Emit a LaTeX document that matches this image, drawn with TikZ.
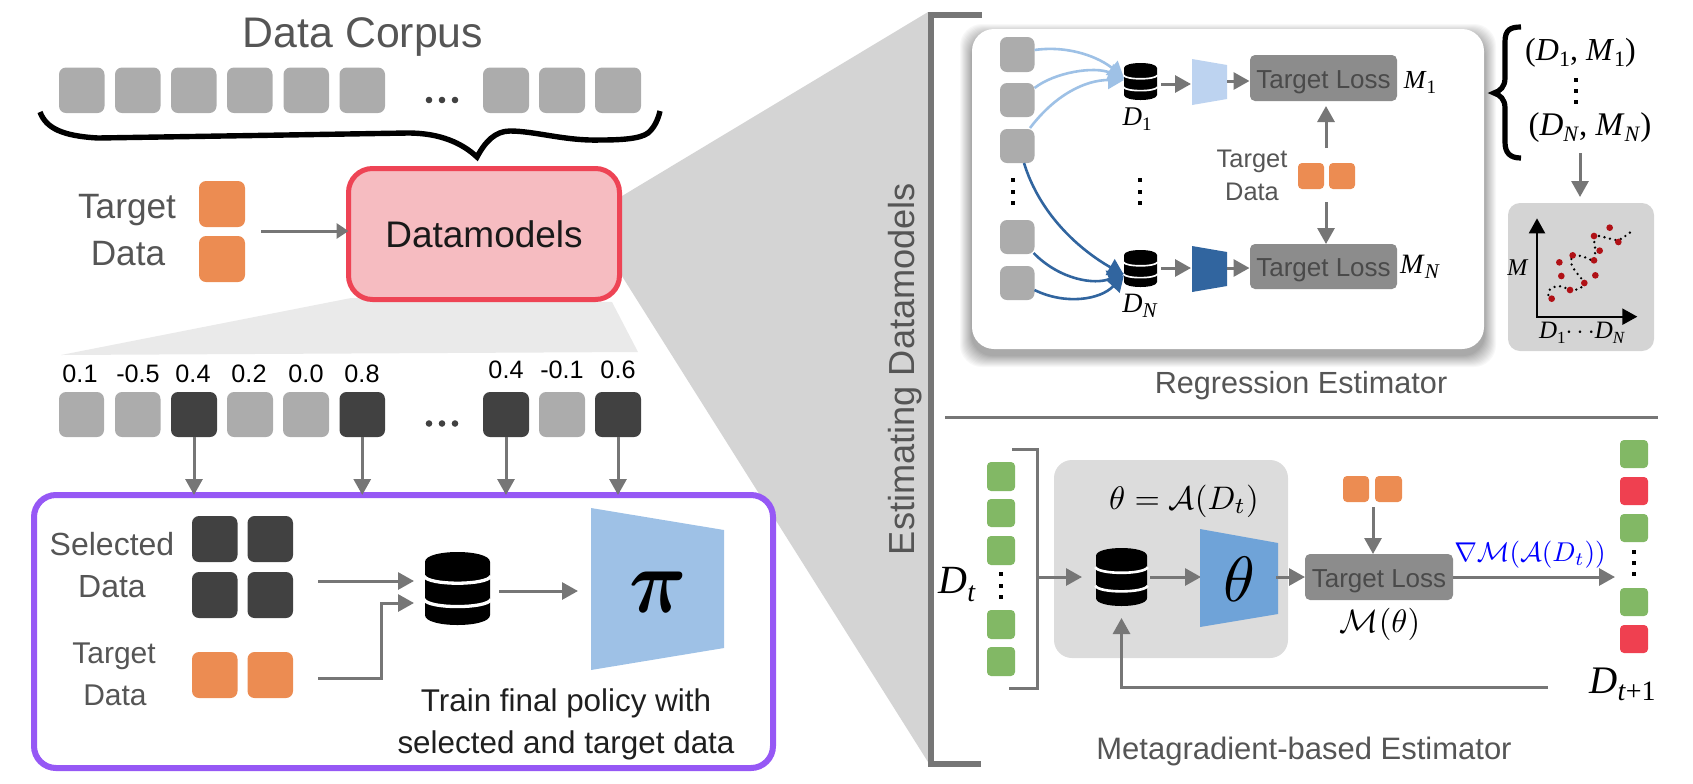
\documentclass[tikz,border=0pt]{standalone}
\usepackage{fix-cm}
\usepackage[no-math]{fontspec}
\setmainfont{Liberation Sans}
\newfontfamily\timesf{Liberation Serif}
\usetikzlibrary{arrows.meta,calc}
\definecolor{cgrey}{HTML}{ACACAC}
\definecolor{cdark}{HTML}{414141}
\definecolor{corange}{HTML}{EC8C52}
\definecolor{cgreen}{HTML}{82B865}
\definecolor{cred}{HTML}{EF4050}
\definecolor{carrow}{HTML}{767676}
\definecolor{cpurple}{HTML}{9658F5}
\definecolor{cdmfill}{HTML}{F6BCC1}
\definecolor{cdmline}{HTML}{EE4455}
\definecolor{cfan}{HTML}{D4D4D4}
\definecolor{cfanl}{HTML}{EAEAEA}
\definecolor{cpiblue}{HTML}{9EC1E6}
\definecolor{clite}{HTML}{BDD3F0}
\definecolor{cdeep}{HTML}{31659F}
\definecolor{ctheta}{HTML}{6FA3D8}
\definecolor{closs}{HTML}{8C8C8C}
\definecolor{closst}{HTML}{4A4A4A}
\definecolor{cgbox}{HTML}{DCDCDC}
\definecolor{ctext}{HTML}{555555}
\definecolor{cdots}{HTML}{B01116}
\font\pibfont=cmmib10 at 38pt
\tikzset{
 bxs/.style={rectangle,inner sep=0pt,outer sep=0pt,align=center},
 big/.style={bxs,rounded corners=3.5pt},
 small/.style={bxs,rounded corners=2pt},
 txs/.style={inner sep=0pt,outer sep=0pt,anchor=base,align=center},
 arr/.style={draw=carrow,line width=1.5pt,-{Triangle[length=8pt,width=8.5pt]}},
 loss/.style={bxs,rounded corners=2.5pt,fill=closs,text=closst,text height=10pt,text depth=0pt,font=\fontsize{13}{13}\selectfont},
 lblue/.style={draw=cpiblue,line width=1.3pt,-{Triangle[length=8pt,width=9pt]}},
 dblue/.style={draw=cdeep,line width=1.3pt,-{Triangle[length=8pt,width=9pt]}},
}
\newcommand\bx[7][]{\node[bxs,#1,minimum width={(#5-#3)*0.5pt},minimum height={(#6-#4)*0.5pt}] (#2) at ({(#3+#5)/2},{(#4+#6)/2}) {#7};}
\newcommand\tx[6][]{\node[txs,#1,font=\fontsize{#5}{#5}\selectfont] (#2) at (#3,#4) {#6};}
\newcommand\mth[6][]{\node[txs,#1] (#2) at (#3,#4) {\scalebox{#5}{$#6$}};}
\newcommand\dsub[4]{{\fontsize{#3}{#3}\selectfont\timesf\textit{#1}\raisebox{-.2em}{\fontsize{#4}{#4}\selectfont#2}}}
\newcommand\dbicon[5]{%
 \node[bxs,minimum width={#4*0.5pt},minimum height={#5*0.5pt}] (#1) at (#2,#3) {};
 \begin{scope}[shift={(#2,#3)},x={#4*0.25pt},y={-#5*0.25pt}]
 \fill[black] (-1,-.73) .. controls (-1,-1.09) and (1,-1.09) .. (1,-.73) -- (1,.73) .. controls (1,1.09) and (-1,1.09) .. (-1,.73) -- cycle;
 \draw[white,line width={#5*0.0225pt}] (-1.03,-.34) .. controls (-.9,-.08) and (.9,-.08) .. (1.03,-.34);
 \draw[white,line width={#5*0.0225pt}] (-1.03,.30) .. controls (-.9,.56) and (.9,.56) .. (1.03,.30);
 \end{scope}}
\newcommand\vd[4]{\foreach \yy in {#2,#3,#4} {\fill[black] ({#1-2},{\yy-2}) rectangle ({#1+2},{\yy+2});}}
\begin{document}
\begin{tikzpicture}[x=0.5pt,y=-0.5pt]
\useasboundingbox (0,0) rectangle (1693,783);
% fans
\fill[cfanl] (351,298) -- (61,355) -- (638,352) -- (612,302) -- cycle;
\fill[cfan] (622,196) -- (928,12) -- (928,762) -- (620,273) -- cycle;
\draw[carrow,line width=3pt] (982,14.5) -- (931,14.5) -- (931,764) -- (981,764);
\tx[rotate=90,text=ctext]{estd}{914}{369}{18.1}{Estimating Datamodels}
% Data corpus
\tx[text=ctext]{corpus}{363}{47}{21.4}{Data Corpus}
\bx[big,fill=cgrey]{a1}{59}{67.5}{104.5}{113}{}
\bx[big,fill=cgrey]{a2}{115}{67.5}{160.5}{113}{}
\bx[big,fill=cgrey]{a3}{171}{67.5}{216.5}{113}{}
\bx[big,fill=cgrey]{a4}{227}{67.5}{272.5}{113}{}
\bx[big,fill=cgrey]{a5}{283.5}{67.5}{329}{113}{}
\bx[big,fill=cgrey]{a6}{339.5}{67.5}{385}{113}{}
\bx[big,fill=cgrey]{a7}{483}{67.5}{529}{113}{}
\bx[big,fill=cgrey]{a8}{539}{67.5}{585}{113}{}
\bx[big,fill=cgrey]{a9}{595}{67.5}{641}{113}{}
\foreach \xx in {429,442,455} {\fill[cdark] (\xx,100) circle[radius=3.3];}
\draw[black,line width=2.7pt,line join=miter,miter limit=10] (40,112) .. controls (46,128) and (62,136) .. (98,138) -- (286,135) -- (408,133) .. controls (440,133) and (462,143) .. (477,157) .. controls (485,142) and (495,131) .. (510,131) .. controls (535,131) and (565,141) .. (600,140) .. controls (620,140) and (640,139) .. (648,133) .. controls (654,128) and (658,120) .. (660,111);
% Target + datamodels
\tx[text=ctext]{tt1}{127}{218}{17.6}{Target}
\tx[text=ctext]{tt2}{128}{265}{17.6}{Data}
\bx[big,fill=corange]{o1}{199}{181}{245}{227}{}
\bx[big,fill=corange]{o2}{199}{236}{245}{282}{}
\bx[fill=cdmfill,draw=cdmline,line width=2.5pt,rounded corners=12pt,font=\fontsize{18.5}{18.5}\selectfont,text=black!90]{dm}{348.5}{168.5}{619.5}{299.5}{Datamodels}
\coordinate (oarr) at (261,231);
\draw[draw=carrow,line width=1.5pt,-{Triangle[length=6pt,width=7.5pt]}] (oarr) -- (oarr -| dm.west);
% Row with scores
\tx{n1}{80}{382}{12.6}{0.1}
\tx{n2}{138}{382}{12.6}{-0.5}
\tx{n3}{193}{382}{12.6}{0.4}
\tx{n4}{249}{382}{12.6}{0.2}
\tx{n5}{306}{382}{12.6}{0.0}
\tx{n6}{362}{382}{12.6}{0.8}
\tx{n7}{506}{378}{12.6}{0.4}
\tx{n8}{562}{378}{12.6}{-0.1}
\tx{n9}{618}{378}{12.6}{0.6}
\bx[big,fill=cgrey]{s1}{59}{392}{104}{437}{}
\bx[big,fill=cgrey]{s2}{115}{392}{160.5}{437}{}
\bx[big,fill=cdark]{s3}{171}{392}{217}{437}{}
\bx[big,fill=cgrey]{s4}{227}{392}{273}{437}{}
\bx[big,fill=cgrey]{s5}{283}{392}{329}{437}{}
\bx[big,fill=cdark]{s6}{339.5}{392}{385}{437}{}
\bx[big,fill=cdark]{s7}{483}{392}{529}{437}{}
\bx[big,fill=cgrey]{s8}{539}{392}{585}{437}{}
\bx[big,fill=cdark]{s9}{595}{392}{641}{437}{}
\foreach \xx in {429,442,455} {\fill[cdark] (\xx,423.5) circle[radius=3.3];}
% Purple box
\bx[draw=cpurple,line width=3pt,rounded corners=11pt]{pur}{34}{495}{773}{768}{}
\foreach \nn in {s3,s6,s7,s9} {\draw[arr] (\nn.south) -- (\nn.south |- pur.north);}
\tx[text=ctext]{sd1}{112}{555}{16}{Selected}
\tx[text=ctext]{sd2}{112}{597}{16}{Data}
\tx[text=ctext]{td1}{114}{663}{15}{Target}
\tx[text=ctext]{td2}{115}{705}{15}{Data}
\bx[big,fill=cdark]{d1}{192}{516}{237.5}{562}{}
\bx[big,fill=cdark]{d2}{247.5}{516}{293}{562}{}
\bx[big,fill=cdark]{d3}{192}{572}{237.5}{618}{}
\bx[big,fill=cdark]{d4}{247.5}{572}{293}{618}{}
\bx[big,fill=corange]{o3}{192}{652}{237.5}{698}{}
\bx[big,fill=corange]{o4}{247.5}{652}{293}{698}{}
\dbicon{dbm}{457.5}{588.5}{65}{73}
\coordinate (sa) at (318,581); \coordinate (ta) at (318,678); \coordinate (tb) at (381,603); \coordinate (dbin) at (414,590);
\draw[arr] (sa) -- (sa -| dbin);
\draw[arr] (ta) -- (tb |- ta) -- (tb) -- (tb -| dbin);
\coordinate (p1) at (499,591); \coordinate (p2) at (578,591);
\draw[arr] (p1) -- (p2);
\fill[cpiblue] (591,508) -- (724,530) -- (724,648) -- (591,670) -- cycle;
\node[txs] (pisym) at (657,612) {\scalebox{1.05}[1.2]{\pibfont\char"19}};
\tx[text=black!88]{tr1}{566}{711}{15.7}{Train final policy with}
\tx[text=black!88]{tr2}{566}{753}{15.7}{selected and target data}
% Regression panel
\foreach \ii in {12,...,1} {\pgfmathsetmacro\cc{(13-\ii)*2.8}\fill[black!\cc,rounded corners=11pt] ({972-\ii},{29-\ii+7}) rectangle ({1484+\ii},{349+\ii+6});}
\bx[fill=white,rounded corners=11pt]{panel}{972}{29}{1484}{349}{}
\bx[big,fill=cgrey]{l1}{1000}{37}{1034.5}{72}{}
\bx[big,fill=cgrey]{l2}{1000}{83}{1034.5}{117}{}
\bx[big,fill=cgrey]{l3}{1000}{129}{1034.5}{163}{}
\bx[big,fill=cgrey]{l4}{1000}{220}{1034.5}{254}{}
\bx[big,fill=cgrey]{l5}{1000}{266}{1034.5}{300}{}
\vd{1013}{180}{191.5}{203}
\vd{1140}{180}{191.5}{203}
\coordinate (t1) at (1124,78); \coordinate (t2) at (1124,79); \coordinate (t3) at (1124,80);
\coordinate (u1) at (1124,275); \coordinate (u2) at (1124,273); \coordinate (u3) at (1124,275);
\coordinate (l3a) at (1030,128); \coordinate (l3b) at (1024,163); \coordinate (l4a) at (1033.6,253); \coordinate (l5a) at (1034.5,290); \coordinate (l1a) at (1034.5,50); \coordinate (l2a) at (1034.5,88);
\draw[lblue] (l1a) .. controls (1070,45) and (1100,58) .. (t1);
\draw[lblue] (l2a) .. controls (1055,72) and (1095,66) .. (t2);
\draw[lblue] (l3a) .. controls (1055,95) and (1085,80) .. (t3);
\draw[dblue] (l3b) .. controls (1040,215) and (1080,250) .. (u1);
\draw[dblue] (l4a) .. controls (1060,280) and (1095,285) .. (u2);
\draw[dblue] (l5a) .. controls (1065,305) and (1100,300) .. (u3);
\dbicon{db1}{1140.5}{81.5}{33}{37}
\dbicon{dbn}{1140.5}{268.5}{33}{37}
\tx{ld1}{1137}{125}{13.5}{\dsub{D}{1}{13.5}{9.5}}
\tx{ldn}{1140}{312}{14}{\dsub{D}{\textit{N}}{14}{10.5}}
\coordinate (q1) at (1161,84); \coordinate (q2) at (1191,84);
\coordinate (q3) at (1227,81); \coordinate (q4) at (1249.5,81);
\coordinate (r1) at (1161,268); \coordinate (r2) at (1191,268);
\coordinate (r3) at (1227,268); \coordinate (r4) at (1249.5,268);
\draw[arr] (q1) -- (q2);
\draw[arr] (r1) -- (r2);
\fill[clite] (1192,59) -- (1227,65) -- (1227,99) -- (1192,105) -- cycle;
\fill[cdeep] (1192,246) -- (1227,252) -- (1227,286) -- (1192,292) -- cycle;
\draw[arr] (q3) -- (q4);
\draw[arr] (r3) -- (r4);
\bx[loss]{ls1}{1250}{55}{1397}{101}{Target Loss}
\bx[loss]{ls2}{1250}{244}{1397}{289}{Target Loss}
\tx{m1}{1420}{88}{13}{\dsub{M}{1}{13}{9.5}}
\tx{mn}{1420}{273}{14}{\dsub{M}{\textit{N}}{14}{10.5}}
\tx[text=ctext]{tg1}{1252}{167}{12.7}{Target}
\tx[text=ctext]{tg2}{1252}{200}{12.7}{Data}
\bx[small,fill=corange]{o5}{1298}{163}{1324}{189}{}
\bx[small,fill=corange]{o6}{1329}{163}{1355}{189}{}
\coordinate (v1) at (1326,148); \coordinate (v2) at (1326,202); \coordinate (v3) at (1326,106);
\draw[arr] (v1) -- (v3);
\draw[arr] (v2) -- (v2 |- ls2.north);
% Pairs
\draw[black,line width=2.6pt] (1521,27) .. controls (1510,27) and (1505,30) .. (1505,42) -- (1505,78) .. controls (1505,87) and (1500,91) .. (1494,93) .. controls (1500,95) and (1505,99) .. (1505,108) -- (1505,142) .. controls (1505,153) and (1510,158) .. (1521,158);
\tx{pr1}{1580.5}{60}{16}{\timesf(\dsub{D}{1}{16}{11}, \dsub{M}{1}{16}{11})}
\vd{1576}{80}{91}{102}
\tx{pr2}{1590}{135}{16.5}{\timesf(\dsub{D}{\textit{N}}{16.5}{11}, \dsub{M}{\textit{N}}{16.5}{11})}
\coordinate (w1) at (1580,153); \coordinate (w2) at (1580,197);
\bx[fill=cfan,rounded corners=6pt]{plot}{1508}{203}{1654}{351}{}
\draw[arr] (w1) -- (w2);
\begin{scope}[shift={(1490,190)},x=0.16667pt,y=-0.16667pt]
\draw[black,line width=1.3pt,line cap=round,dash pattern=on 0pt off 2.8pt] plot[smooth] coordinates {(175,315) (180,298) (205,288) (240,298) (265,298) (283,279) (265,255) (245,225) (248,196) (280,200) (312,211) (315,170) (312,138) (345,142) (385,150) (423,125)};
\foreach \px/\py in {185/326,240/300,283/279,214/258,208/217,248/196,312/211,316/256,329/182,312/138,359/113,385/156} {\fill[cdots] (\px,\py) circle[radius=10];}
\coordinate (ax0) at (141,380); \coordinate (ax1) at (141,85); \coordinate (ax2) at (442,380);
\draw[black,line width=1.1pt,{Triangle[length=7.5pt,width=8pt]}-{Triangle[length=7.5pt,width=8pt]}] (ax1) -- (ax0) -- (ax2);
\end{scope}
\tx{pm}{1518}{275}{12}{\timesf\textit{M}}
\tx{pd}{1582}{338}{12.5}{\dsub{D}{1}{12.5}{8.5}$\cdots$\dsub{D}{\textit{N}}{12.5}{8.5}}
\tx[text=ctext]{regr}{1301}{393}{15.3}{Regression Estimator}
\coordinate (hl1) at (945,417); \coordinate (hl2) at (1658,417);
\draw[carrow,line width=1.5pt] (hl1) -- (hl2);
% Metagradient
\draw[carrow,line width=1.5pt] (1012,449) -- (1037,449) -- (1037,688) -- (1009,688);
\bx[small,fill=cgreen]{g1}{987}{462}{1015}{491}{}
\bx[small,fill=cgreen]{g2}{987}{499}{1015}{527}{}
\bx[small,fill=cgreen]{g3}{987}{536}{1015}{565}{}
\vd{1001}{574}{586}{597}
\bx[small,fill=cgreen]{g4}{987}{610}{1015}{639}{}
\bx[small,fill=cgreen]{g5}{987}{647}{1015}{676}{}
\tx{dt}{957}{593}{20}{\dsub{D}{\textit{t}}{20}{14}}
\bx[fill=cgbox,rounded corners=9pt]{gb}{1054}{460}{1288}{658}{}
\coordinate (x1) at (1037,577); \coordinate (x2) at (1082,577);
\draw[arr] (x1) -- (x2);
\mth{eq}{1184}{509}{1.63}{\theta=\mathcal{A}(D_t)}
\dbicon{dbt}{1121.5}{577}{51}{58}
\coordinate (x3) at (1150,577); \coordinate (x4) at (1201,577);
\draw[arr] (x3) -- (x4);
\fill[ctheta] (1200,529) -- (1278,543) -- (1278,614) -- (1200,627) -- cycle;
\mth{th}{1239}{601}{3.2}{\theta}
\bx[loss]{ls3}{1305}{554}{1453}{600}{Target Loss}
\coordinate (x5) at (1276,577);
\draw[arr] (x5) -- (x5 -| ls3.west);
\mth{mth}{1380}{632}{1.62}{\mathcal{M}(\theta)}
\bx[small,fill=corange]{o7}{1343}{476}{1369}{502}{}
\bx[small,fill=corange]{o8}{1375}{476}{1402}{502}{}
\coordinate (y1) at (1373,507);
\draw[arr] (y1) -- (y1 |- ls3.north);
\coordinate (z1) at (1615,577);
\draw[arr] (ls3.east |- z1) -- (z1);
\mth[text=blue]{nab}{1530}{561}{1.36}{\nabla\mathcal{M}(\mathcal{A}(D_t))}
\bx[small,fill=cgreen]{h1}{1620}{440}{1648}{468}{}
\bx[small,fill=cred]{h2}{1620}{477}{1648}{505}{}
\bx[small,fill=cgreen]{h3}{1620}{514}{1648}{542}{}
\vd{1634}{552}{563}{574}
\bx[small,fill=cgreen]{h4}{1620}{588}{1648}{616}{}
\bx[small,fill=cred]{h5}{1620}{625}{1648}{653}{}
\tx{dt1}{1622.5}{693}{19.5}{\dsub{D}{\textit{t}+1}{19.5}{14}}
\coordinate (z2) at (1548,687); \coordinate (z3) at (1121.5,687); \coordinate (z4) at (1121.5,618);
\draw[arr] (z2) -- (z3) -- (z4);
\tx[text=ctext]{meta}{1304}{759}{15.5}{Metagradient-based Estimator}
\end{tikzpicture}
\end{document}
